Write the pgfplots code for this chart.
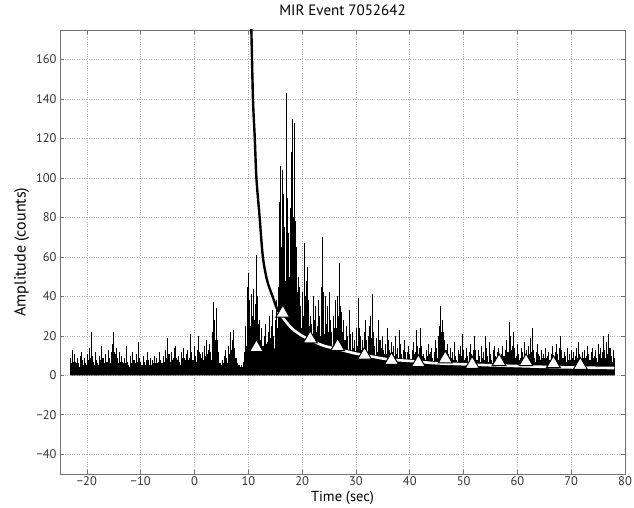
\documentclass[border=0pt]{standalone}
\usepackage{pgfplots}
\usepackage{pgfplotstable}
\pgfplotsset{compat=1.18}
\usepackage{fontspec}
\setmainfont{PT Sans}

% signal peaks, sampled every 0.25 s from -23 s
\pgfplotstableread[row sep=\\]{
y\\
9\\13\\7\\11\\6\\9\\5\\10\\12\\7\\9\\6\\11\\8\\14\\22\\10\\7\\12\\8\\
6\\10\\8\\15\\9\\6\\11\\7\\13\\9\\12\\16\\22\\11\\14\\8\\12\\7\\10\\6\\
9\\15\\7\\5\\10\\6\\12\\8\\6\\11\\17\\9\\7\\5\\10\\6\\8\\12\\6\\9\\
5\\8\\10\\6\\9\\7\\12\\8\\6\\10\\13\\9\\19\\11\\7\\12\\9\\14\\15\\8\\
10\\7\\12\\9\\14\\8\\11\\13\\9\\21\\12\\8\\15\\10\\13\\20\\11\\9\\12\\15\\
10\\18\\13\\16\\12\\22\\37\\28\\34\\18\\9\\6\\5\\8\\10\\13\\9\\15\\11\\22\\
18\\23\\14\\9\\6\\5\\4\\5\\7\\12\\25\\45\\52\\38\\41\\30\\44\\36\\61\\40\\
28\\18\\24\\15\\20\\26\\17\\22\\30\\25\\33\\20\\28\\38\\45\\88\\106\\104\\92\\75\\
143\\90\\72\\85\\113\\130\\128\\78\\65\\50\\45\\35\\42\\30\\67\\48\\55\\38\\30\\26\\
40\\28\\35\\25\\38\\30\\45\\70\\32\\40\\26\\35\\42\\28\\22\\30\\24\\38\\40\\30\\
57\\32\\22\\28\\18\\25\\20\\33\\16\\22\\14\\18\\24\\15\\39\\20\\13\\18\\22\\28\\
17\\20\\25\\30\\41\\22\\15\\19\\12\\28\\18\\14\\20\\11\\16\\24\\18\\13\\17\\12\\
15\\20\\11\\14\\23\\16\\10\\13\\18\\9\\12\\15\\11\\8\\13\\17\\12\\23\\10\\14\\
24\\15\\11\\9\\13\\10\\16\\12\\14\\9\\12\\18\\14\\20\\25\\35\\28\\22\\18\\13\\
16\\11\\14\\9\\12\\17\\10\\8\\13\\11\\15\\21\\12\\9\\14\\10\\12\\16\\9\\13\\
20\\11\\8\\13\\10\\15\\9\\12\\20\\14\\10\\17\\11\\8\\13\\15\\10\\12\\14\\9\\
11\\15\\10\\13\\18\\12\\27\\20\\15\\22\\13\\10\\16\\11\\9\\14\\12\\17\\10\\13\\
15\\11\\19\\24\\13\\9\\12\\16\\10\\8\\13\\11\\9\\14\\10\\12\\8\\11\\15\\9\\
12\\16\\11\\14\\20\\13\\9\\12\\10\\14\\8\\11\\13\\9\\12\\10\\14\\17\\11\\8\\
12\\9\\13\\10\\15\\11\\8\\12\\14\\10\\13\\9\\16\\11\\14\\12\\20\\13\\17\\11\\
21\\14\\10\\13\\9\\
}\signal

% in-between samples, every 0.25 s from -22.875 s
\pgfplotstableread[row sep=\\]{
y\\
6\\8\\5\\7\\5\\6\\4\\7\\8\\5\\6\\5\\7\\6\\9\\12\\7\\5\\8\\6\\
5\\7\\6\\9\\6\\5\\7\\5\\8\\6\\8\\10\\12\\7\\9\\6\\8\\5\\7\\5\\
6\\9\\5\\4\\7\\5\\8\\6\\5\\7\\10\\6\\5\\4\\7\\5\\6\\8\\5\\6\\
4\\6\\7\\5\\6\\5\\8\\6\\5\\7\\8\\6\\11\\7\\5\\8\\6\\9\\9\\6\\
7\\5\\8\\6\\9\\6\\7\\8\\6\\12\\8\\6\\9\\7\\8\\12\\7\\6\\8\\9\\
7\\11\\9\\10\\8\\14\\22\\18\\20\\12\\6\\5\\4\\6\\7\\8\\6\\9\\7\\13\\
12\\14\\9\\6\\5\\4\\4\\4\\5\\8\\15\\28\\32\\25\\26\\20\\28\\24\\35\\26\\
18\\12\\15\\10\\13\\16\\11\\14\\19\\16\\20\\13\\18\\24\\30\\55\\65\\62\\58\\48\\
85\\60\\50\\55\\70\\80\\78\\50\\42\\32\\30\\24\\28\\20\\40\\30\\35\\25\\20\\18\\
25\\18\\22\\16\\24\\20\\28\\42\\21\\25\\17\\22\\26\\18\\15\\19\\16\\24\\25\\20\\
35\\21\\15\\18\\12\\16\\13\\21\\11\\14\\10\\12\\15\\10\\24\\13\\9\\12\\14\\18\\
11\\13\\16\\19\\25\\14\\10\\12\\8\\18\\12\\9\\13\\8\\11\\15\\12\\9\\11\\8\\
10\\13\\8\\9\\15\\11\\7\\9\\12\\7\\8\\10\\8\\6\\9\\11\\8\\15\\7\\9\\
15\\10\\8\\7\\9\\7\\11\\8\\9\\7\\8\\12\\9\\13\\16\\22\\18\\14\\12\\9\\
11\\8\\9\\7\\8\\11\\7\\6\\9\\8\\10\\13\\8\\7\\9\\7\\8\\11\\7\\9\\
13\\8\\6\\9\\7\\10\\7\\8\\13\\9\\7\\11\\8\\6\\9\\10\\7\\8\\9\\7\\
8\\10\\7\\9\\12\\8\\17\\13\\10\\14\\9\\7\\11\\8\\7\\9\\8\\11\\7\\9\\
10\\8\\12\\15\\9\\7\\8\\11\\7\\6\\9\\8\\7\\9\\7\\8\\6\\8\\10\\7\\
8\\11\\8\\9\\13\\9\\7\\8\\7\\9\\6\\8\\9\\7\\8\\7\\9\\11\\8\\6\\
8\\7\\9\\7\\10\\8\\6\\8\\9\\7\\9\\7\\11\\8\\9\\8\\13\\9\\11\\8\\
14\\9\\7\\9\\
}\signalb

\begin{document}
\begin{tikzpicture}
\begin{axis}[
  scale only axis,
  width=565pt, height=444pt,
  xmin=-25, xmax=80, ymin=-50, ymax=175,
  xtick={-20,-10,0,10,20,30,40,50,60,70,80},
  xticklabels={−20,−10,0,10,20,30,40,50,60,70,80},
  ytick={-40,-20,0,20,40,60,80,100,120,140,160},
  yticklabels={−40,−20,0,20,40,60,80,100,120,140,160},
  tick align=inside,
  major tick length=4pt,
  tick style={black!55, line width=0.6pt},
  axis line style={black!55, line width=0.9pt},
  grid=major,
  grid style={dotted, black!30, line width=0.7pt},
  ticklabel style={font=\fontsize{12.5}{14}\selectfont, text=black!80},
  xticklabel style={yshift=1pt},
  title={MIR Event 7052642},
  title style={font=\fontsize{15}{17}\selectfont, at={(axis description cs:0.5,1.032)}, anchor=center},
  xlabel={Time (sec)},
  ylabel={Amplitude (counts)},
  xlabel style={font=\fontsize{14.5}{16}\selectfont, at={(axis description cs:0.5,-0.054)}, anchor=center},
  ylabel style={font=\fontsize{16}{18}\selectfont, at={(axis description cs:-0.068,0.5)}, anchor=center},
  clip=true,
]
% dense low-amplitude band of the signal
\addplot[fill=black, draw=none] coordinates {
 (-23,3.5) (-20,4) (-15,4.5) (-10,3.5) (-5,4.5) (0,4.5) (2,5) (3,7) (4,6) (5,3.5) (8,3.5) (9,4)
 (9.5,8) (10,15) (11,16) (12,10) (13,9) (14,11) (15,14) (16,25) (17,35) (18,35) (19,25)
 (20,18) (22,15) (25,13) (28,10) (30,8) (35,7) (40,6.5) (45,6.5) (50,6) (55,6)
 (60,6) (65,6) (70,6) (75,6) (78,6)} \closedcycle;
% spikes of the signal
\addplot[ycomb, black, line width=0.8pt, mark=none]
  table[x expr=\coordindex*0.25-22.875, y=y] {\signalb};
\addplot[ycomb, black, line width=0.8pt, mark=none]
  table[x expr=\coordindex*0.25-23, y=y] {\signal};
% decay curve, upper (black) part
\addplot[black, line width=2.4pt, smooth, mark=none] coordinates {
 (10.45,185) (10.56,175) (10.86,140) (11.2,120) (11.5,100) (12.1,80) (12.7,60)
 (13.5,48) (14.5,40) (15.3,34) (16.2,30) (16.8,28.5)};
% decay curve, lower (white) part
\addplot[black, line width=4.4pt, smooth, mark=none] coordinates {
 (16.2,30) (18,24) (20,20) (21.5,18) (24,15) (27,13) (30,11) (32,10) (35,8.5)
 (37,7.8) (40,7.3) (42,6.8) (45,6.1) (50,5.6) (55,5.1) (60,4.7) (65,4.3) (70,4)
 (75,3.8) (78,3.7)};
\addplot[white, line width=2.6pt, smooth, mark=none] coordinates {
 (16.2,30) (18,24) (20,20) (21.5,18) (24,15) (27,13) (30,11) (32,10) (35,8.5)
 (37,7.8) (40,7.3) (42,6.8) (45,6.1) (50,5.6) (55,5.1) (60,4.7) (65,4.3) (70,4)
 (75,3.8) (78,3.7)};
% triangles
\addplot[only marks, mark=triangle*, mark size=8pt,
  mark options={fill=white, draw=black, line width=1pt}] coordinates {
 (11.5,14) (16.4,31.5) (21.5,18.5) (26.6,14.6) (31.6,10.2) (36.6,7.6) (41.6,6.4)
 (46.6,8.4) (51.6,5.6) (56.6,6.9) (61.6,6.9) (66.7,5.9) (71.7,5.1)};
\end{axis}
\pgfresetboundingbox
\path[use as bounding box] (-60pt,-34pt) rectangle (574pt,474pt);
\end{tikzpicture}
\end{document}
